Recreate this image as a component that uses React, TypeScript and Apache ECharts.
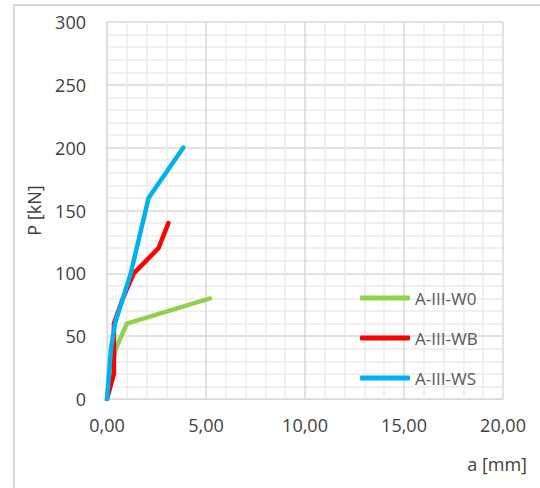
import React, { useEffect, useRef } from "react";
import * as echarts from "echarts";

const seriesNames = ["A-III-W0", "A-III-WB", "A-III-WS"];
const seriesColors = ["#92D050", "#FF0000", "#00B0F0"];
const w0: [number, number][] = [[0, 0], [0.2, 20], [0.45, 40], [1.0, 60], [5.2, 80]];
const wb: [number, number][] = [[0, 0], [0.35, 20], [0.35, 60], [0.8, 80], [1.35, 100], [2.6, 120], [3.1, 140]];
const ws: [number, number][] = [[0, 0], [0.1, 20], [0.2, 40], [0.4, 60], [1.2, 100], [2.1, 160], [3.85, 200]];
const seriesData = [w0, wb, ws];
const xTitle = "a [mm]";
const yTitle = "P [kN]";

const FONT = "'Open Sans', 'Noto Sans', sans-serif";

export default function App() {
  const ref = useRef<HTMLDivElement>(null);
  useEffect(() => {
    if (!ref.current) return;
    const chart = echarts.init(ref.current, null, { renderer: "svg" });
    chart.setOption({
      animation: false,
      backgroundColor: "#ffffff",
      grid: { left: 107, top: 22, width: 396, height: 377, containLabel: false },
      xAxis: {
        type: "value",
        min: 0,
        max: 20,
        interval: 5,
        axisLine: { show: true, lineStyle: { color: "#d9d9d9", width: 1 } },
        axisTick: { show: false },
        axisLabel: {
          color: "#404040",
          fontSize: 18,
          fontFamily: FONT,
          margin: 17,
          formatter: (v: number) => v.toFixed(2).replace(".", ","),
        },
        splitLine: { show: true, lineStyle: { color: "#d9d9d9", width: 1.5 } },
        minorTick: { show: false, splitNumber: 5 },
        minorSplitLine: { show: true, lineStyle: { color: "#ebebeb", width: 1.5 } },
      },
      yAxis: {
        type: "value",
        min: 0,
        max: 300,
        interval: 50,
        name: yTitle,
        nameLocation: "middle",
        nameGap: 64,
        nameTextStyle: { color: "#404040", fontSize: 18, fontFamily: FONT },
        axisLine: { show: true, lineStyle: { color: "#d9d9d9", width: 1 } },
        axisTick: { show: false },
        axisLabel: { color: "#404040", fontSize: 18, fontFamily: FONT, margin: 21 },
        splitLine: { show: true, lineStyle: { color: "#d9d9d9", width: 1.5 } },
        minorTick: { show: false, splitNumber: 5 },
        minorSplitLine: { show: true, lineStyle: { color: "#ebebeb", width: 1.5 } },
      },
      legend: {
        orient: "vertical",
        left: 355,
        top: 283,
        itemWidth: 50,
        itemHeight: 5,
        itemGap: 20,
        icon: "roundRect",
        textStyle: { color: "#595959", fontSize: 17, fontFamily: FONT, lineHeight: 20 },
        data: seriesNames,
      },
      series: seriesNames.map((name, i) => ({
        name,
        type: "line",
        data: seriesData[i],
        showSymbol: false,
        symbol: "none",
        color: seriesColors[i],
        lineStyle: { color: seriesColors[i], width: 4.5, cap: "round", join: "round" },
      })),
      graphic: [
        {
          type: "rect",
          shape: { x: 14, y: 5, width: 620, height: 600 },
          style: { fill: "none", stroke: "#d9d9d9", lineWidth: 2 },
          silent: true,
        },
        {
          type: "text",
          x: 527,
          y: 464,
          style: {
            text: xTitle,
            fill: "#404040",
            font: `18px ${FONT}`,
            align: "right",
            verticalAlign: "middle",
          },
        },
      ],
    });
    return () => chart.dispose();
  }, []);
  return (
    <div
      ref={ref}
      style={{ position: "fixed", left: 0, top: 0, width: 540, height: 488 }}
    />
  );
}
